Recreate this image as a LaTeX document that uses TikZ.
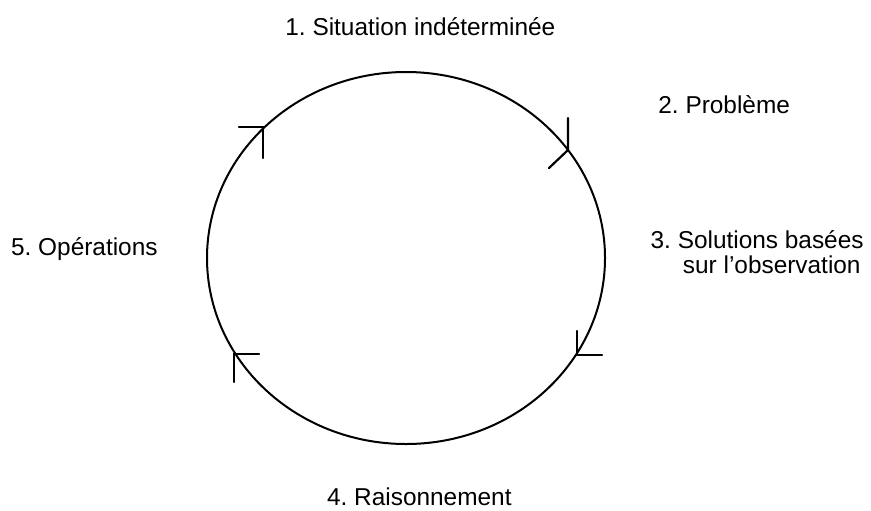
\documentclass[tikz,border=0pt]{standalone}
\usepackage{fontspec}
\setmainfont{Liberation Sans}
\usepackage{tikz}
\usetikzlibrary{positioning}
\frenchspacing
\tikzset{
    stage/.style={font=\fontsize{12.2}{14}\selectfont, inner sep=0pt},
    barb/.style={line width=1.1pt, line cap=round},
}

\begin{document}
\begin{tikzpicture}[x=0.5pt, y=-0.5pt]
    \useasboundingbox (0,0) rectangle (871,510);

    % Cycle
    \draw[line width=1pt] (406,258) ellipse [x radius=199, y radius=186];

    % Arrow marks on the cycle (barb / tip / barb)
    \foreach \ax/\ay/\jx/\jy/\bx/\by in {239/127/263/127/263/158, 568/118/568/150/549/168, 577/331/577/355/602/355, 259/354/234/354/234/382} {
        \draw[barb] (\ax,\ay) -- (\jx,\jy) -- (\bx,\by);
    }

    % Stages
    \node[stage, anchor=base west] (sit) at (285,35) {1. Situation indéterminée};
    \node[stage, anchor=base west] (prob) at (658,113) {2. Problème};
    \node[stage, anchor=base east] (sol) at (864,248) {3. Solutions basées};
    \node[stage, anchor=base east] (obs) at (861,273) {sur l'observation};
    \node[stage, anchor=base east] (rais) at (512,505) {4. Raisonnement};
    \node[stage, anchor=base east] (ops) at (158,255) {5. Opérations};
\end{tikzpicture}
\end{document}
